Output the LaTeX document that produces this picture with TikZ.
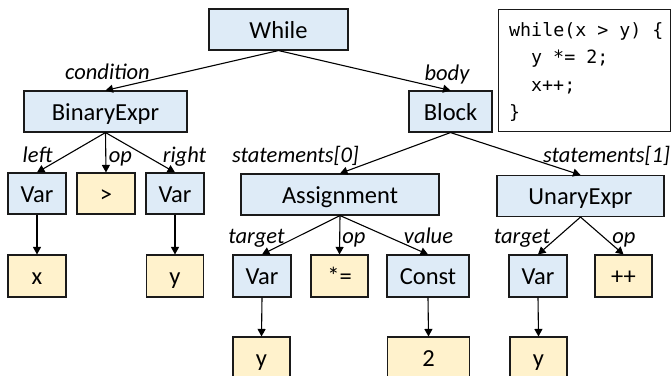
\documentclass[tikz,border=0pt]{standalone}
\usepackage{fontspec}
\setmainfont{Carlito}
\newfontfamily\codefont{DejaVu Sans Mono}
\usetikzlibrary{arrows.meta}
\definecolor{astblue}{HTML}{DEEBF7}
\definecolor{astyellow}{HTML}{FFF2CC}
\definecolor{edgegray}{HTML}{1A1A1A}
\tikzset{
  box/.style={draw=edgegray, line width=1.1pt, inner sep=0pt,
    minimum height=41pt, text height=17pt, text depth=0pt,
    font=\fontsize{24.5}{28}\selectfont},
  inode/.style={box, fill=astblue},
  leaf/.style={box, fill=astyellow},
  lbl/.style={anchor=base, inner sep=0pt, font=\fontsize{22.5}{26}\selectfont\itshape},
  arr/.style={draw=black, line width=1.1pt, -{Triangle[length=7.5pt,width=8pt]}},
  codeline/.style={anchor=base west, inner sep=0pt, font=\codefont\fontsize{18.3}{27}\selectfont},
}
\begin{document}
\begin{tikzpicture}[x=1pt, y=-1pt]
\useasboundingbox (0,0) rectangle (671,375);
\clip (0,0) rectangle (671,375);

% source snippet
\node[draw=edgegray, line width=1.1pt, anchor=north west, minimum width=172pt,
      minimum height=122pt, inner sep=0pt] (code) at (498,9) {};
\node[codeline] (c1) at (509,36) {while(x > y) \{};
\node[codeline] (c2) at (531,63.5) {y *= 2;};
\node[codeline] (c3) at (531,91) {x++;};
\node[codeline] (c4) at (509,118) {\}};

% level 0-1
\node[inode, minimum width=139pt] (while) at (278.5,29.5) {While};
\node[inode, minimum width=163pt] (bin) at (105.5,111.5) {BinaryExpr};
\node[inode, minimum width=83pt]  (block) at (450.5,111.5) {Block};

% level 2
\node[inode, minimum width=58pt]  (var1) at (37,193.5) {Var};
\node[leaf,  minimum width=58pt]  (gt) at (106,193.5) {>};
\node[inode, minimum width=58pt]  (var2) at (175,193.5) {Var};
\node[inode, minimum width=198pt] (assign) at (340,194.5) {Assignment};
\node[inode, minimum width=167pt] (unary) at (580.5,196) {UnaryExpr};

% level 3
\node[leaf,  minimum width=58pt, minimum height=42pt] (lx) at (37,276) {x};
\node[leaf,  minimum width=57pt, minimum height=42pt] (ly1) at (175,276) {y};
\node[inode, minimum width=58pt, minimum height=42pt] (var3) at (262,276) {Var};
\node[leaf,  minimum width=57pt, minimum height=42pt] (muleq) at (339.5,276) {*=};
\node[inode, minimum width=82pt, minimum height=42pt] (const) at (428,276) {Const};
\node[inode, minimum width=58pt, minimum height=42pt] (var4) at (538,276) {Var};
\node[leaf,  minimum width=57pt, minimum height=42pt] (pp) at (623.5,276) {++};

% level 4
\node[leaf, minimum width=57pt, minimum height=42pt] (ly2) at (261.5,358) {y};
\node[leaf, minimum width=82pt, minimum height=42pt] (two) at (428.5,358) {2};
\node[leaf, minimum width=57pt, minimum height=42pt] (ly3) at (538.5,358) {y};

% edges
\draw[arr] (while.south) -- (bin.north);
\draw[arr] (while.south) -- (block.north);
\draw[arr] (bin.south) -- (var1.north);
\draw[arr] (bin.south) -- (gt.north);
\draw[arr] (bin.south) -- (var2.north);
\draw[arr] (block.south) -- (assign.north);
\draw[arr] (block.south) -- (unary.north);
\draw[arr] (var1.south) -- (lx.north);
\draw[arr] (var2.south) -- (ly1.north);
\draw[arr] (assign.south) -- (var3.north);
\draw[arr] (assign.south) -- (muleq.north);
\draw[arr] (assign.south) -- (const.north);
\draw[arr] (unary.south) -- (var4.north);
\draw[arr] (unary.south) -- (pp.north);
\draw[arr] (var3.south) -- (ly2.north);
\draw[arr] (const.south) -- (two.north);
\draw[arr] (var4.south) -- (ly3.north);

% edge labels
\node[lbl] (lcond) at (107.5,79) {condition};
\node[lbl] (lbody) at (447,80) {body};
\node[lbl] (lleft) at (37.5,162) {left};
\node[lbl] (lop1) at (120.5,162) {op};
\node[lbl] (lright) at (184.5,162) {right};
\node[lbl] (ls0) at (295.5,162) {statements[0]};
\node[lbl] (ls1) at (606.5,162) {statements[1]};
\node[lbl] (ltgt1) at (256.5,243) {target};
\node[lbl] (lop2) at (354,243) {op};
\node[lbl] (lval) at (428.5,243) {value};
\node[lbl] (ltgt2) at (522,243) {target};
\node[lbl] (lop3) at (624,243) {op};
\end{tikzpicture}
\end{document}
